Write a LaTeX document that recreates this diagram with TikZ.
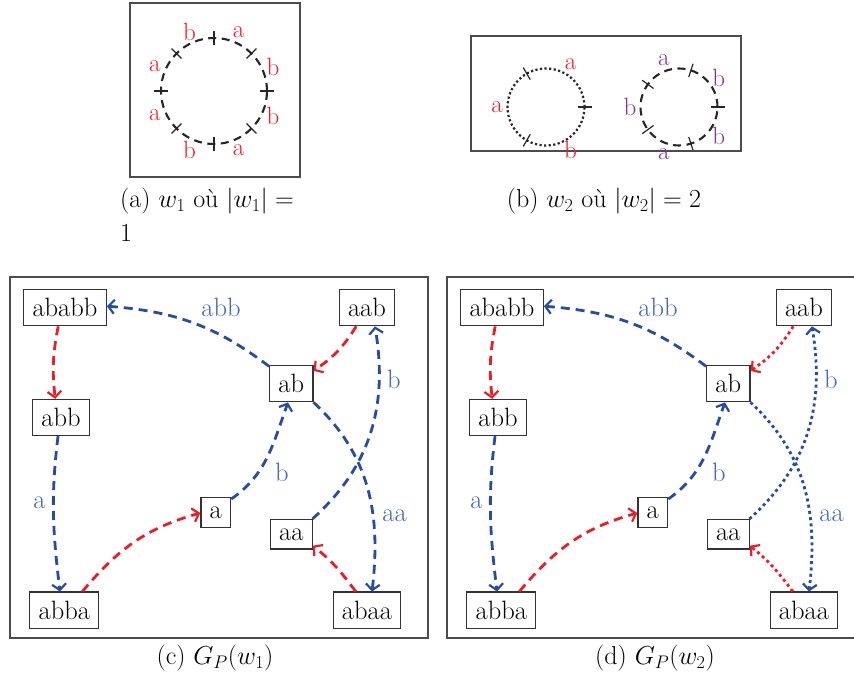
\RequirePackage{fix-cm}
\documentclass[tikz,border=0pt]{standalone}
\usetikzlibrary{arrows.meta,bending}
\definecolor{myred}{RGB}{235,30,40}
\definecolor{myblue}{RGB}{40,75,165}
\definecolor{lblue}{RGB}{70,100,190}
\definecolor{mypurple}{RGB}{135,50,145}
\tikzset{
  nd/.style={draw=black!80, line width=1.2pt, text=black, font=\fontsize{26.5}{32}\selectfont, inner sep=8.8pt},
  frm/.style={draw=black!70, line width=1.3pt},
  captxt/.style={text=black, font=\fontsize{26}{31}\selectfont, inner sep=0pt},
  lb/.style={text=lblue, font=\fontsize{26.5}{32}\selectfont, inner sep=0pt},
  cl/.style={font=\fontsize{25}{30}\selectfont, inner sep=0pt},
  tck/.style={draw=black!85, line width=1.2pt},
  edg/.style={line width=2.8pt, -{Straight Barb[length=6pt,width=14pt,line width=2.2pt,bend]}},
  re/.style={edg, draw=myred},
  be/.style={edg, draw=myblue},
  dsh/.style={dash pattern=on 9pt off 6pt},
  dtt/.style={dash pattern=on 3pt off 3.3pt},
}
\newcommand{\mygraph}[2]{%
  \node[nd] (#1ababb) at (65,371.3) {ababb};
  \node[nd] (#1aab) at (367,371.3) {aab};
  \node[nd] (#1ab) at (291.3,295.3) {ab};
  \node[nd] (#1abb) at (61,261.5) {abb};
  \node[nd] (#1a) at (215.8,166.5) {a};
  \node[nd] (#1aa) at (291.3,144.7) {aa};
  \node[nd] (#1abba) at (64.3,68.8) {abba};
  \node[nd] (#1abaa) at (367,68.8) {abaa};
  \draw[re,dsh] (#1ababb.-110) to[out=-101,in=97] (#1abb.107);
  \draw[be,dsh] (#1abb.-99) to[out=-97,in=97] (#1abba.103);
  \draw[re,dsh] (#1abba.46) to[out=50,in=195] (#1a.182);
  \draw[be,dsh] (#1a.41) to[out=35,in=-110] (#1ab.-100);
  \draw[be,dsh] (#1ab.142) to[out=143,in=-4] (#1ababb.2);
  \draw[re,#2] (#1aab.-120) to[out=-122,in=34] (#1ab.30);
  \draw[be,#2] (#1aa.36) to[out=42,in=-80] (#1aab.-67);
  \draw[be,#2] (#1ab.-40) to[out=-43,in=83] (#1abaa.75);
  \draw[re,#2] (#1abaa.121) to[out=127,in=-38] (#1aa.-28);
  \node[lb] (#1labb) at (221,372) {abb};
  \node[lb] (#1lb1) at (394,299.5) {b};
  \node[lb] (#1lb2) at (282,207) {b};
  \node[lb] (#1la) at (39.5,176) {a};
  \node[lb] (#1laa) at (394.5,163) {aa};
}
\begin{document}
\begin{tikzpicture}[x=1pt,y=1pt]
\fill[white] (0,0) rectangle (854,679);
\useasboundingbox (0,0) rectangle (854,679);
% frames
\draw[frm] (130,676) rectangle (300,502);
\draw[frm] (471,643) rectangle (741,528);
\draw[frm] (10,402) rectangle (428,41);
\draw[frm] (447,402) rectangle (866,41);
% (a) circle
\coordinate (ca) at (214,588);
\draw[black!85, line width=2.1pt, dash pattern=on 8pt off 5.5pt] (ca) circle (53);
\foreach \t in {0,45,...,315} \draw[tck] ([shift={(\t:46)}]ca) -- ([shift={(\t:60)}]ca);
\foreach \t/\l [count=\i] in {22.5/b,67.5/a,112.5/b,157.5/a,202.5/a,247.5/b,292.5/a,337.5/b}
  \node[cl,text=myred] (la\i) at ([shift={(\t:64)}]ca) {\l};
% (b) left circle
\coordinate (cb) at (546,572);
\draw[black!85, line width=2.2pt, dash pattern=on 2.2pt off 2.4pt] (cb) circle (38.5);
\foreach \t in {0,120,240} \draw[tck] ([shift={(\t:31.5)}]cb) -- ([shift={(\t:45.5)}]cb);
\foreach \t/\l [count=\i] in {60/a,180/a,300/b}
  \node[cl,text=myred] (lb\i) at ([shift={(\t:49)}]cb) {\l};
% (b) right circle
\coordinate (cd) at (679,572);
\draw[black!85, line width=2.1pt, dash pattern=on 8pt off 5.5pt] (cd) circle (38.5);
\foreach \t in {0,72,144,216,288} \draw[tck] ([shift={(\t:31.5)}]cd) -- ([shift={(\t:45.5)}]cd);
\foreach \t/\l [count=\i] in {36/b,108/a,180/b,252/a,324/b}
  \node[cl,text=mypurple] (lp\i) at ([shift={(\t:49)}]cd) {\l};
% captions
\node[captxt, anchor=base west] (capa1) at (120,471) {(a) $w_1$ où $|w_1| =$};
\node[captxt, anchor=base west] (capa2) at (120,437) {1};
\node[captxt, anchor=base west] (capb) at (506.7,471) {(b) $w_2$ où $|w_2| = 2$};
\node[captxt, anchor=base] (capc) at (215,14) {(c) $G_P(w_1)$};
\node[captxt, anchor=base] (capd) at (655,14) {(d) $G_P(w_2)$};
% graphs
\begin{scope}
\mygraph{c}{dsh}
\end{scope}
\begin{scope}[xshift=437pt]
\mygraph{d}{dtt}
\end{scope}
\end{tikzpicture}
\end{document}
